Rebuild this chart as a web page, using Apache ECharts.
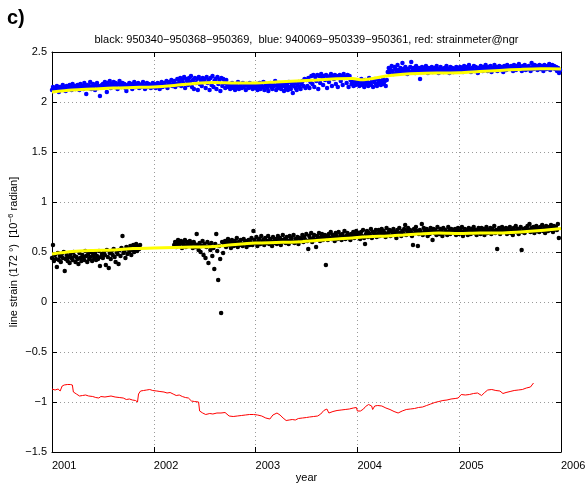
<!DOCTYPE html>
<html>
<head>
<meta charset="utf-8">
<script src="https://cdn.jsdelivr.net/npm/echarts@6/dist/echarts.min.js"></script>
<style>
  html, body { margin: 0; padding: 0; background: #fff; }
  #chart { width: 585px; height: 486px; }
</style>
</head>
<body>
<div id="chart"></div>
<script>
// Sampling interval of the tiltmeter strain records (twice a week), in years
const SAMPLE_STEP = 1 / 104;

// Blue: 940069-950339-950361 strain, starting 2001.0
const blueStart = 2001.0;
const blueValues = [
  2.12,2.15,2.11,2.14,2.13,2.16,2.12,2.10,2.15,2.13,2.14,2.17,2.12,2.15,2.11,2.16,2.14,2.13,2.17,2.15,2.12,2.18,2.14,2.16,2.13,2.15,
  2.17,2.14,2.12,2.18,2.15,2.16,2.13,2.19,2.15,2.08,2.17,2.14,2.16,2.20,2.13,2.15,2.18,2.16,2.12,2.17,2.19,2.14,2.16,2.06,2.15,2.17,
  2.18,2.15,2.20,2.17,2.10,2.19,2.16,2.21,2.14,2.18,2.17,2.20,2.15,2.19,2.16,2.13,2.18,2.21,2.17,2.15,2.19,2.16,2.18,2.14,2.11,2.17,
  2.15,2.19,2.16,2.18,2.13,2.17,2.20,2.15,2.18,2.16,2.19,2.14,2.17,2.15,2.18,2.20,2.16,2.13,2.17,2.19,2.15,2.18,2.16,2.14,2.17,2.19,
  2.15,2.18,2.14,2.17,2.19,2.16,2.13,2.18,2.20,2.15,2.17,2.19,2.16,2.21,2.14,2.18,2.20,2.17,2.22,2.16,2.19,2.21,2.15,2.18,2.23,2.17,
  2.20,2.24,2.16,2.22,2.19,2.25,2.14,2.23,2.21,2.17,2.24,2.20,2.26,2.15,2.22,2.13,2.24,2.19,2.23,2.12,2.25,2.18,2.22,2.16,2.24,2.20,
  2.23,2.14,2.25,2.19,2.22,2.12,2.24,2.17,2.26,2.15,2.21,2.23,2.13,2.25,2.18,2.22,2.11,2.24,2.16,2.23,2.19,2.14,2.22,2.17,2.15,2.18,
  2.13,2.16,2.19,2.14,2.17,2.12,2.18,2.15,2.20,2.13,2.16,2.18,2.14,2.19,2.15,2.17,2.12,2.18,2.16,2.14,2.19,2.15,2.17,2.13,2.18,2.16,
  2.14,2.18,2.12,2.16,2.19,2.13,2.17,2.15,2.20,2.12,2.16,2.18,2.14,2.11,2.17,2.19,2.15,2.13,2.18,2.16,2.21,2.12,2.17,2.14,2.19,2.15,
  2.13,2.18,2.16,2.11,2.19,2.14,2.17,2.12,2.20,2.15,2.13,2.18,2.09,2.16,2.19,2.14,2.12,2.17,2.20,2.15,2.13,2.18,2.21,2.16,2.23,2.14,
  2.22,2.16,2.24,2.14,2.20,2.26,2.18,2.27,2.15,2.25,2.21,2.27,2.13,2.26,2.19,2.28,2.25,2.17,2.26,2.22,2.27,2.14,2.25,2.20,2.26,2.28,
  2.16,2.25,2.23,2.27,2.18,2.26,2.15,2.25,2.27,2.21,2.26,2.17,2.28,2.24,2.25,2.19,2.27,2.15,2.26,2.22,2.18,2.20,2.16,2.21,2.17,2.19,
  2.18,2.21,2.16,2.20,2.23,2.17,2.19,2.15,2.22,2.18,2.20,2.16,2.24,2.19,2.17,2.21,2.15,2.20,2.23,2.18,2.16,2.22,2.19,2.21,2.17,2.20,
  2.23,2.18,2.21,2.16,2.22,2.30,2.34,2.29,2.32,2.36,2.31,2.28,2.35,2.33,2.30,2.37,2.32,2.29,2.34,2.31,2.39,2.33,2.30,2.35,2.32,2.28,
  2.33,2.30,2.35,2.40,2.31,2.34,2.32,2.29,2.36,2.33,2.31,2.34,2.23,2.32,2.35,2.30,2.33,2.31,2.36,2.32,2.29,2.34,2.31,2.33,2.35,2.30,
  2.32,2.34,2.31,2.36,2.33,2.29,2.32,2.35,2.31,2.33,2.30,2.34,2.32,2.36,2.31,2.33,2.29,2.35,2.32,2.34,2.30,2.33,2.31,2.35,2.32,2.34,
  2.31,2.35,2.32,2.34,2.30,2.36,2.33,2.31,2.35,2.32,2.37,2.33,2.30,2.34,2.32,2.36,2.31,2.35,2.33,2.29,2.34,2.32,2.36,2.33,2.31,2.35,
  2.32,2.37,2.34,2.31,2.35,2.33,2.36,2.30,2.34,2.32,2.37,2.33,2.35,2.31,2.34,2.36,2.32,2.35,2.33,2.30,2.36,2.34,2.32,2.37,2.33,2.35,
  2.33,2.36,2.34,2.31,2.37,2.35,2.32,2.36,2.34,2.38,2.33,2.35,2.31,2.36,2.34,2.37,2.32,2.35,2.33,2.36,2.34,2.31,2.39,2.35,2.33,2.37,
  2.34,2.36,2.32,2.35,2.37,2.33,2.36,2.34,2.31,2.37,2.35,2.33,2.36,2.34,2.38,2.32,2.35,2.37,2.34,2.36,2.33,2.35,2.31,2.34,2.29,2.32
];

// Black: 950340-950368-950369 strain, first segment from 2001.0
const blackStartA = 2001.0;
const blackValuesA = [
  0.44,0.57,0.41,0.47,0.43,0.35,0.49,0.42,0.46,0.40,0.48,0.44,0.50,0.31,0.43,0.47,0.41,0.45,0.39,0.48,0.44,0.42,0.50,0.46,0.40,0.45,
  0.43,0.38,0.49,0.44,0.41,0.47,0.45,0.42,0.51,0.46,0.40,0.48,0.43,0.45,0.50,0.41,0.47,0.44,0.49,0.42,0.46,0.43,0.51,0.36,0.45,0.48,
  0.44,0.50,0.47,0.37,0.52,0.45,0.34,0.49,0.43,0.51,0.47,0.53,0.45,0.40,0.50,0.48,0.38,0.52,0.46,0.54,0.66,0.49,0.51,0.44,0.55,0.48,
  0.53,0.50,0.56,0.47,0.52,0.57,0.50,0.54,0.58,0.51,0.55,0.53,0.57
];

// Black: second segment, resuming at 2002.2
const blackStartB = 2002.2;
const blackValuesB = [
  0.57,0.60,0.55,0.59,0.62,0.56,0.58,0.61,0.54,0.59,0.57,0.62,0.55,0.60,0.58,0.56,0.61,0.57,0.59,0.54,0.60,0.58,0.55,0.68,0.57,0.52,
  0.59,0.50,0.56,0.61,0.47,0.58,0.44,0.55,0.60,0.39,0.57,0.52,0.59,0.46,0.54,0.33,0.58,0.68,0.51,0.22,0.56,0.43,-0.11,0.60,0.49,0.57,
  0.61,0.55,0.59,0.63,0.57,0.60,0.54,0.62,0.58,0.56,0.61,0.59,0.64,0.55,0.60,0.57,0.62,0.58,0.56,0.63,0.59,0.61,0.55,0.60,0.62,0.57,
  0.60,0.64,0.57,0.71,0.62,0.59,0.65,0.56,0.61,0.63,0.58,0.66,0.60,0.62,0.57,0.64,0.59,0.61,0.66,0.58,0.63,0.60,0.56,0.65,0.61,0.59,
  0.63,0.58,0.66,0.61,0.64,0.57,0.62,0.67,0.60,0.63,0.59,0.65,0.61,0.58,0.66,0.62,0.64,0.60,0.67,0.59,0.63,0.61,0.65,0.58,0.64,0.62,
  0.63,0.67,0.60,0.65,0.62,0.68,0.61,0.53,0.66,0.63,0.69,0.60,0.64,0.67,0.62,0.55,0.66,0.63,0.69,0.61,0.65,0.68,0.62,0.64,0.67,0.37,
  0.66,0.62,0.68,0.64,0.70,0.63,0.67,0.65,0.61,0.69,0.66,0.63,0.70,0.64,0.67,0.62,0.68,0.65,0.71,0.63,0.66,0.69,0.64,0.67,0.62,0.68,
  0.66,0.70,0.64,0.68,0.71,0.65,0.69,0.67,0.63,0.70,0.66,0.72,0.64,0.58,0.68,0.71,0.65,0.69,0.67,0.73,0.64,0.70,0.66,0.68,0.72,0.65,
  0.68,0.72,0.66,0.70,0.73,0.67,0.71,0.69,0.65,0.74,0.68,0.70,0.72,0.66,0.71,0.69,0.73,0.67,0.70,0.64,0.72,0.68,0.74,0.69,0.66,0.71,
  0.69,0.73,0.77,0.67,0.71,0.74,0.68,0.72,0.70,0.66,0.57,0.73,0.69,0.75,0.71,0.56,0.68,0.72,0.70,0.78,0.67,0.74,0.71,0.69,0.73,0.66,
  0.71,0.68,0.74,0.70,0.62,0.73,0.69,0.72,0.67,0.75,0.70,0.68,0.73,0.71,0.66,0.74,0.69,0.72,0.70,0.67,0.75,0.71,0.68,0.73,0.70,0.72,
  0.69,0.73,0.67,0.71,0.74,0.68,0.72,0.70,0.75,0.66,0.71,0.73,0.69,0.72,0.67,0.74,0.70,0.68,0.73,0.71,0.75,0.69,0.72,0.67,0.70,0.74,
  0.72,0.68,0.74,0.70,0.73,0.67,0.71,0.75,0.69,0.72,0.70,0.74,0.68,0.73,0.71,0.76,0.69,0.72,0.53,0.70,0.74,0.68,0.72,0.75,0.70,0.73,
  0.71,0.74,0.68,0.73,0.70,0.75,0.69,0.72,0.67,0.74,0.71,0.76,0.70,0.73,0.68,0.72,0.75,0.52,0.70,0.73,0.69,0.74,0.71,0.76,0.72,0.78,
  0.70,0.74,0.71,0.75,0.69,0.73,0.76,0.71,0.74,0.70,0.75,0.72,0.77,0.71,0.74,0.69,0.76,0.73,0.71,0.75,0.72,0.77,0.74,0.70,0.76,0.73,
  0.75,0.72,0.78,0.64
];

// Smoothed fits (yellow) through both tiltmeter records
const fitYears = [2001.0,2001.2,2001.4,2001.6,2001.8,2002.0,2002.2,2002.4,2002.6,2002.8,2003.0,2003.2,2003.4,2003.6,2003.8,2003.95,2004.05,2004.15,2004.3,2004.45,2004.6,2004.8,2005.0,2005.2,2005.4,2005.6,2005.8,2006.0];
const blueFit  = [2.10,2.12,2.13,2.14,2.145,2.15,2.165,2.185,2.195,2.19,2.19,2.20,2.21,2.22,2.232,2.235,2.222,2.235,2.262,2.278,2.286,2.29,2.292,2.305,2.316,2.326,2.332,2.33];
const blackFit = [0.48,0.505,0.515,0.52,0.535,0.54,0.545,0.55,0.555,0.575,0.59,0.595,0.60,0.615,0.63,0.64,0.65,0.655,0.66,0.67,0.68,0.69,0.685,0.69,0.69,0.70,0.715,0.735];

// Red: strainmeter@ngr
const redYears = [
  2001.00,2001.03,2001.06,2001.08,2001.10,2001.12,2001.15,2001.18,2001.20,2001.21,2001.24,2001.27,2001.30,2001.33,2001.36,2001.40,
  2001.43,2001.46,2001.48,2001.52,2001.55,2001.58,2001.62,2001.66,2001.70,2001.73,2001.76,2001.79,2001.82,2001.84,2001.85,2001.87,
  2001.90,2001.93,2001.96,2001.99,2002.03,2002.06,2002.10,2002.13,2002.16,2002.19,2002.22,2002.25,2002.28,2002.31,2002.34,2002.37,
  2002.40,2002.44,2002.45,2002.48,2002.51,2002.55,2002.58,2002.62,2002.66,2002.70,2002.74,2002.78,2002.82,2002.86,2002.90,2002.94,
  2002.98,2003.02,2003.06,2003.10,2003.14,2003.17,2003.21,2003.24,2003.27,2003.30,2003.33,2003.36,2003.39,2003.42,2003.46,2003.50,
  2003.53,2003.57,2003.61,2003.64,2003.67,2003.70,2003.72,2003.76,2003.80,2003.84,2003.88,2003.92,2003.96,2003.99,2004.00,2004.03,
  2004.06,2004.08,2004.11,2004.14,2004.15,2004.17,2004.20,2004.24,2004.28,2004.32,2004.36,2004.40,2004.44,2004.48,2004.52,2004.56,
  2004.60,2004.64,2004.68,2004.72,2004.76,2004.80,2004.84,2004.88,2004.92,2004.96,2004.99,2005.02,2005.06,2005.10,2005.14,2005.18,
  2005.22,2005.25,2005.28,2005.32,2005.36,2005.40,2005.43,2005.46,2005.50,2005.54,2005.58,2005.62,2005.66,2005.70,2005.71,2005.73
];
const redValues = [
  -0.87,-0.88,-0.87,-0.89,-0.84,-0.83,-0.825,-0.825,-0.83,-0.90,-0.92,-0.94,-0.935,-0.93,-0.94,-0.945,
  -0.955,-0.96,-0.945,-0.95,-0.945,-0.94,-0.95,-0.955,-0.96,-0.975,-0.97,-0.98,-0.985,-1.0,-0.92,-0.89,
  -0.885,-0.88,-0.875,-0.885,-0.89,-0.895,-0.90,-0.91,-0.905,-0.92,-0.935,-0.93,-0.945,-0.955,-0.96,-0.99,
  -0.995,-1.0,-1.09,-1.11,-1.125,-1.115,-1.12,-1.11,-1.11,-1.105,-1.14,-1.145,-1.14,-1.135,-1.13,-1.125,
  -1.125,-1.13,-1.14,-1.16,-1.17,-1.13,-1.11,-1.13,-1.16,-1.185,-1.18,-1.175,-1.18,-1.165,-1.16,-1.155,
  -1.15,-1.145,-1.14,-1.12,-1.085,-1.07,-1.11,-1.095,-1.085,-1.08,-1.075,-1.07,-1.06,-1.055,-1.09,-1.09,
  -1.07,-1.045,-1.025,-1.04,-1.075,-1.04,-1.035,-1.04,-1.06,-1.075,-1.095,-1.11,-1.09,-1.075,-1.07,-1.065,
  -1.055,-1.05,-1.035,-1.02,-1.005,-0.995,-0.985,-0.98,-0.97,-0.965,-0.96,-0.925,-0.93,-0.925,-0.915,-0.91,
  -0.935,-0.905,-0.88,-0.875,-0.885,-0.89,-0.915,-0.905,-0.895,-0.885,-0.88,-0.875,-0.86,-0.85,-0.845,-0.81
];

// Axis ticks
const xTicks = { min: 2001, max: 2006, step: 1 };
const yTicks = { min: -1.5, max: 2.5, step: 0.5 };

const titleText = 'black: 950340\u2212950368\u2212950369,  blue: 940069\u2212950339\u2212950361, red: strainmeter@ngr';
const FONT = '"Liberation Sans", Arial, Helvetica, sans-serif';

function sampled(start, values) {
  return values.map((v, i) => [start + i * SAMPLE_STEP, v]);
}
function paired(xs, ys) {
  return xs.map((x, i) => [x, ys[i]]);
}

const dotted = { color: '#9a9a9a', width: 1, type: [1, 3] };
const boxLine = { show: true, onZero: false, lineStyle: { color: '#000', width: 1 } };
const inTick = { show: true, inside: true, length: 5, lineStyle: { color: '#000' } };

const chart = echarts.init(document.getElementById('chart'), null, { renderer: 'canvas' });
chart.setOption({
  animation: false,
  backgroundColor: '#fff',
  textStyle: { fontFamily: FONT },
  grid: { left: 52, right: 24, top: 52, bottom: 34, containLabel: false, outerBoundsMode: 'none' },
  graphic: [
    { type: 'text', left: 7, top: 8, style: { text: 'c)', font: 'bold 20px ' + FONT, fill: '#000' } },
    { type: 'text', x: 306.5, y: 40, style: { text: titleText, font: '11px ' + FONT, fill: '#000', align: 'center', verticalAlign: 'middle' } }
  ],
  xAxis: [
    {
      type: 'value', position: 'bottom', min: xTicks.min, max: xTicks.max, interval: xTicks.step,
      axisLine: boxLine, axisTick: inTick,
      axisLabel: { color: '#000', fontSize: 11, margin: 8, align: 'left', showMinLabel: true, showMaxLabel: true, formatter: v => String(v) },
      splitLine: { show: true, lineStyle: dotted },
      name: 'year', nameLocation: 'middle', nameGap: 20, nameMoveOverlap: false,
      nameTextStyle: { color: '#000', fontSize: 11 }
    },
    {
      type: 'value', position: 'top', min: xTicks.min, max: xTicks.max, interval: xTicks.step,
      axisLine: boxLine, axisTick: inTick, axisLabel: { show: false }, splitLine: { show: false }
    }
  ],
  yAxis: [
    {
      type: 'value', position: 'left', min: yTicks.min, max: yTicks.max, interval: yTicks.step,
      axisLine: boxLine, axisTick: inTick,
      axisLabel: { color: '#000', fontSize: 11, margin: 5, formatter: v => String(v).replace('-', '\u2212') },
      splitLine: { show: true, lineStyle: dotted },
      name: 'line strain (172 \u00b0)  [10{sup|\u22126} radian]',
      nameLocation: 'middle', nameRotate: 90, nameGap: 31, nameMoveOverlap: false,
      nameTextStyle: {
        color: '#000', fontSize: 11,
        rich: { sup: { fontSize: 8, color: '#000', padding: [0, 0, 6, 0] } }
      }
    },
    {
      type: 'value', position: 'right', min: yTicks.min, max: yTicks.max, interval: yTicks.step,
      axisLine: boxLine, axisTick: inTick, axisLabel: { show: false }, splitLine: { show: false }
    }
  ],
  series: [
    {
      name: 'blue', type: 'scatter', data: sampled(blueStart, blueValues),
      symbol: 'circle', symbolSize: 4.5, itemStyle: { color: '#0000ff', opacity: 1 }, silent: true, z: 2
    },
    {
      name: 'black', type: 'scatter', data: sampled(blackStartA, blackValuesA).concat(sampled(blackStartB, blackValuesB)),
      symbol: 'circle', symbolSize: 4.5, itemStyle: { color: '#000000', opacity: 1 }, silent: true, z: 2
    },
    {
      name: 'blue fit', type: 'line', data: paired(fitYears, blueFit), smooth: 0.3,
      showSymbol: false, lineStyle: { color: '#ffff00', width: 3 }, silent: true, z: 3
    },
    {
      name: 'black fit', type: 'line', data: paired(fitYears, blackFit), smooth: 0.3,
      showSymbol: false, lineStyle: { color: '#ffff00', width: 3 }, silent: true, z: 3
    },
    {
      name: 'red', type: 'line', data: paired(redYears, redValues),
      showSymbol: false, lineStyle: { color: '#ff0000', width: 1 }, silent: true, z: 4
    }
  ]
});
</script>
</body>
</html>
